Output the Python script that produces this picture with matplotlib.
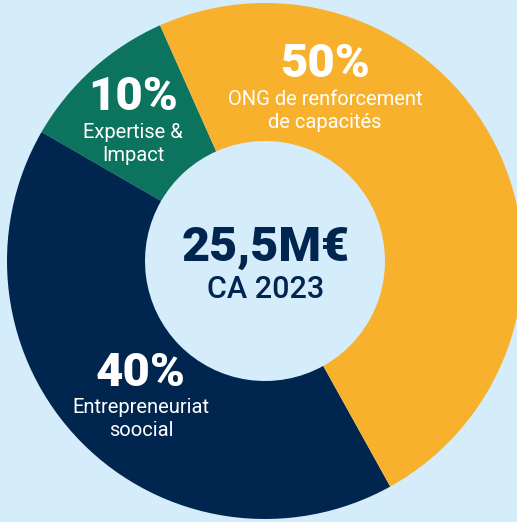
import matplotlib
matplotlib.use("Agg")
import matplotlib.pyplot as plt

# ---------------------------------------------------------------------------
# Data
# ---------------------------------------------------------------------------

segments = ["Expertise &\nImpact", "Entrepreneuriat\nsoocial", "ONG de renforcement\nde capacités"]
# wedge sizes as drawn in the picture (labels say 10 / 40 / 50)
shares = [10, 41.4, 48.6]
pct_labels = ["10%", "40%", "50%"]
colors = ["#0b735e", "#00264f", "#f8b12d"]
total_label = "25,5M€"
sub_label = "CA 2023"

BG = "#d5ecfa"
NAVY = "#00264f"
W, H = 517, 522

plt.rcParams["font.family"] = ["Roboto", "DejaVu Sans"]

fig = plt.figure(figsize=(W / 100, H / 100), dpi=100, facecolor=BG)
ax = fig.add_axes([0, 0, 1, 1])
ax.set_facecolor(BG)

# donut, centre and radii in pixel units
cx, cy = 265, H - 261
r_out, r_in = 258, 120
ax.pie(shares, colors=colors, startangle=114, center=(cx, cy), radius=r_out,
       wedgeprops=dict(width=r_out - r_in, linewidth=0), frame=True)
ax.set_xlim(0, W)
ax.set_ylim(0, H)
ax.set_aspect("equal")
ax.axis("off")

# centre text
ax.text(cx + 1, H - 248, total_label, ha="center", va="center", color=NAVY,
        fontsize=35, fontweight="heavy")
ax.text(cx + 1, H - 290, sub_label, ha="center", va="center", color=NAVY,
        fontsize=22, fontweight="medium")

# segment labels (percent + name)
pct_pos = [(133, 97), (141, 373), (325, 64)]
name_pos = [(133, 144), (141, 419), (325, 111)]
for pct, name, (px, py), (nx, ny) in zip(pct_labels, segments, pct_pos, name_pos):
    ax.text(px, H - py, pct, ha="center", va="center", color="white",
            fontsize=34, fontweight="heavy")
    ax.text(nx, H - ny, name, ha="center", va="center", color="white",
            fontsize=14.5, fontweight="normal", linespacing=1.25)

fig.savefig("out.png", dpi=100, facecolor=BG)
